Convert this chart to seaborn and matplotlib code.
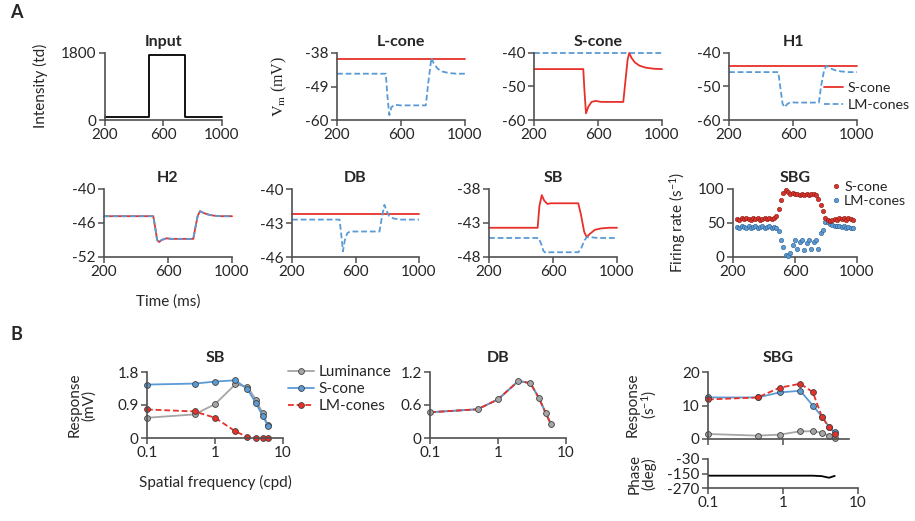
import matplotlib
matplotlib.use("Agg")
import matplotlib.pyplot as plt
from matplotlib.lines import Line2D
from matplotlib.ticker import NullLocator
import seaborn as sns

# ---------------- Panel A data (time in ms) ----------------
input_t = [200, 500, 500, 750, 750, 1000]
input_v = [90, 90, 1740, 1740, 90, 90]

lcone_s_t = [200, 1000]
lcone_s_v = [-39.9, -39.9]
lcone_lm_t = [200, 505, 515, 527, 540, 560, 600, 755, 770, 790, 805, 830, 860, 900, 950, 1000]
lcone_lm_v = [-44.8, -44.8, -52, -58.4, -55.8, -55.0, -55.2, -55.2, -48, -39.6, -41.5, -43.2, -44.1, -44.6, -44.8, -44.8]

scone_lm_t = [200, 1000]
scone_lm_v = [-40, -40]
scone_s_t = [200, 508, 515, 525, 540, 560, 585, 620, 758, 770, 785, 795, 810, 830, 860, 900, 950, 1000]
scone_s_v = [-44.8, -44.8, -51, -58, -56, -54.6, -54.3, -54.6, -54.6, -49, -42, -40, -41.5, -42.8, -43.8, -44.4, -44.7, -44.8]

h1_s_t = [200, 1000]
h1_s_v = [-43.9, -43.9]
h1_lm_t = [200, 508, 520, 535, 548, 565, 585, 620, 762, 775, 795, 810, 830, 860, 900, 950, 1000]
h1_lm_v = [-45.7, -45.7, -50, -55.2, -56.2, -55.2, -54.7, -54.8, -54.8, -50, -45, -43.8, -44.5, -45.1, -45.5, -45.7, -45.7]

h2_t = [200, 508, 520, 532, 545, 560, 590, 620, 758, 770, 785, 800, 820, 850, 885, 930, 1000]
h2_v = [-44.8, -44.8, -46.8, -49.0, -49.35, -49.0, -48.7, -48.8, -48.8, -47, -44.8, -43.9, -44.2, -44.5, -44.7, -44.8, -44.8]

db_s_t = [200, 1000]
db_s_v = [-42.2, -42.2]
db_lm_t = [200, 500, 510, 521, 533, 548, 565, 600, 751, 765, 782, 795, 813, 840, 880, 1000]
db_lm_v = [-42.7, -42.7, -44.0, -45.5, -44.5, -43.9, -43.75, -43.75, -43.75, -42.6, -41.4, -41.9, -42.4, -42.6, -42.7, -42.7]

sb_s_t = [200, 504, 515, 530, 545, 565, 585, 620, 758, 775, 795, 811, 830, 862, 900, 950, 1000]
sb_s_v = [-43.7, -43.7, -40.5, -38.9, -39.7, -40.2, -40.1, -40.1, -40.1, -41.8, -44.3, -45.1, -44.6, -44.0, -43.8, -43.7, -43.7]
sb_lm_t = [200, 510, 525, 540, 555, 580, 758, 775, 795, 811, 840, 880, 1000]
sb_lm_v = [-45.2, -45.2, -46.0, -47.1, -47.4, -47.3, -47.3, -46.8, -45.6, -45.1, -45.1, -45.2, -45.2]

sbg_t = [225, 240, 255, 270, 285, 300, 315, 330, 345, 360, 375, 390, 405, 420, 435, 450, 465,
         480, 495, 510, 525, 540, 555, 570, 585, 600, 615, 630, 645, 660, 675, 690, 705, 720,
         735, 750, 765, 780, 795, 810, 825, 840, 855, 870, 885, 900, 915, 930, 945, 960, 975]
sbg_s = [56, 55, 57, 56, 58, 56, 55, 57, 56, 57, 55, 56, 58, 56, 57, 56, 57,
         60, 70, 84, 94, 98, 96, 93, 94, 92, 93, 91, 92, 91, 92, 91, 93, 93,
         91, 86, 77, 67, 58, 55, 53, 55, 56, 55, 57, 56, 57, 55, 57, 56, 55]
sbg_lm = [44, 43, 45, 44, 42, 45, 43, 44, 46, 43, 44, 45, 43, 44, 45, 43, 44,
          43, 38, 25, 15, 3, 1, 6, 18, 25, 12, 22, 25, 10, 20, 25, 12, 22,
          25, 12, 35, 40, 52, 51, 49, 47, 46, 45, 46, 44, 45, 43, 44, 43, 43]

# ---------------- Panel B data (spatial frequency, cpd) ----------------
sf_b = [0.1, 0.5, 1, 2, 3, 4, 5, 6]
sbB_lum = [0.552, 0.643, 0.923, 1.466, 1.40, 1.04, 0.68, 0.353]
sbB_s = [1.457, 1.484, 1.538, 1.575, 1.33, 0.95, 0.61, 0.335]
sbB_lm = [0.778, 0.724, 0.552, 0.18, 0.027, 0.01, 0.01, 0.0]

dbB = [0.468, 0.522, 0.702, 1.038, 0.996, 0.726, 0.462, 0.252]

sf_g = [0.1, 0.46, 0.9, 1.7, 2.5, 3.3, 4.1, 4.9]
sbgB_s = [12.4, 12.4, 13.9, 14.4, 10.0, 6.7, 3.7, 2.0]
sbgB_lm = [11.8, 12.4, 15.3, 16.5, 14.0, 6.7, 3.5, 1.4]
sbgB_lum = [1.5, 1.0, 1.3, 2.3, 2.3, 1.9, 0.9, 0.3]
sbgB_phase = [-168, -168, -168, -168, -168, -172, -185, -170]

# ---------------- style ----------------
sns.set_style("ticks")
plt.rcParams['font.family'] = ['Lato', 'DejaVu Sans']
plt.rcParams['axes.unicode_minus'] = False
plt.rcParams['mathtext.fontset'] = 'custom'
plt.rcParams['mathtext.rm'] = 'Lato'
plt.rcParams['mathtext.it'] = 'Lato:italic'
plt.rcParams['mathtext.bf'] = 'Lato:bold'

RED = '#e8302a'
BLUE = '#5b9bd5'
GRAY = '#a5a5a5'
AX = '#505050'
FS = 11
LFS = 10.3
TFS = 11.5
LW = 1.3
DASH = (3.2, 1.6)

W, H = 915, 521
fig = plt.figure(figsize=(W / 100, H / 100), dpi=100)


def add_ax(l, r, t, b):
    return fig.add_axes([l / W, 1 - b / H, (r - l) / W, (b - t) / H])


def style(ax, xlim, xticks, ylim, yticks, xlabels=None, ylabels=None, log=False, title=None, tpad=5):
    if log:
        ax.set_xscale('log')
    ax.set_xlim(xlim)
    ax.set_ylim(ylim)
    ax.set_xticks(xticks)
    ax.set_yticks(yticks)
    ax.xaxis.set_minor_locator(NullLocator())
    ax.yaxis.set_minor_locator(NullLocator())
    ax.set_xticklabels(xlabels if xlabels is not None else [str(x) for x in xticks])
    ax.set_yticklabels(ylabels if ylabels is not None else [str(y) for y in yticks])
    for s in ['top', 'right']:
        ax.spines[s].set_visible(False)
    for s in ['left', 'bottom']:
        ax.spines[s].set_color(AX)
        ax.spines[s].set_linewidth(1.2)
    ax.tick_params(direction='out', length=4, width=1.1, color=AX, labelsize=FS, pad=2)
    ax.set_xlabel('')
    ax.set_ylabel('')
    ax.set_facecolor('none')
    if title:
        ax.set_title(title, fontweight='bold', fontsize=TFS, pad=tpad)


def line(ax, x, y, color, dashed=False, **kw):
    sns.lineplot(x=x, y=y, ax=ax, color=color, linewidth=LW, estimator=None, sort=False,
                 dashes=False, **kw)
    ln = ax.lines[-1]
    ln.set_clip_on(False)
    if dashed:
        ln.set_dashes(DASH)
    return ln


tx = [200, 600, 1000]

# Row 1
ax = add_ax(105, 222, 53, 120)
line(ax, input_t, input_v, 'black')
style(ax, (200, 1000), tx, (0, 1800), [0, 1800], title='Input')

ax = add_ax(337, 465, 53, 120)
line(ax, lcone_s_t, lcone_s_v, RED)
line(ax, lcone_lm_t, lcone_lm_v, BLUE, dashed=True)
style(ax, (200, 1000), tx, (-60, -38), [-60, -49, -38], title='L-cone')

ax = add_ax(534, 662, 53, 120)
line(ax, scone_lm_t, scone_lm_v, BLUE, dashed=True)
line(ax, scone_s_t, scone_s_v, RED)
style(ax, (200, 1000), tx, (-60, -40), [-60, -50, -40], title='S-cone')

ax = add_ax(729, 857, 53, 120)
line(ax, h1_s_t, h1_s_v, RED)
line(ax, h1_lm_t, h1_lm_v, BLUE, dashed=True)
style(ax, (200, 1000), tx, (-60, -40), [-60, -50, -40], title='H1')
h_s = Line2D([], [], color=RED, lw=LW)
h_lm = Line2D([], [], color=BLUE, lw=LW, dashes=DASH)
fig.legend([h_s, h_lm], ['S-cone', 'LM-cones'], loc='upper left',
           bbox_to_anchor=(824 / W, 1 - 82 / H), frameon=False, fontsize=LFS,
           handlelength=1.35, handletextpad=0.3, labelspacing=0.35, borderaxespad=0, borderpad=0)

# Row 2
ax = add_ax(104, 232, 189, 257)
line(ax, h2_t, h2_v, RED)
line(ax, h2_t, h2_v, BLUE, dashed=True)
style(ax, (200, 1000), tx, (-52, -40), [-52, -46, -40], title='H2')

ax = add_ax(292, 419, 189, 257)
line(ax, db_s_t, db_s_v, RED)
line(ax, db_lm_t, db_lm_v, BLUE, dashed=True)
style(ax, (200, 1000), tx, (-46, -40), [-46, -43, -40], title='DB')

ax = add_ax(489, 617, 189, 257)
line(ax, sb_s_t, sb_s_v, RED)
line(ax, sb_lm_t, sb_lm_v, BLUE, dashed=True)
style(ax, (200, 1000), tx, (-48, -38), [-48, -43, -38], title='SB')

ax = add_ax(733, 857, 189, 257)
sns.scatterplot(x=sbg_t, y=sbg_lm, ax=ax, color=BLUE, edgecolor='#2e5e8c', s=10, linewidth=0.4, clip_on=False, zorder=3)
sns.scatterplot(x=sbg_t, y=sbg_s, ax=ax, color='#d9342b', edgecolor='#8a1a16', s=10, linewidth=0.4, clip_on=False, zorder=3)
style(ax, (200, 1000), tx, (0, 100), [0, 50, 100], title='SBG')
d_s = Line2D([], [], ls='none', marker='o', ms=3.2, mfc='#d9342b', mec='#8a1a16', mew=0.4)
d_lm = Line2D([], [], ls='none', marker='o', ms=3.2, mfc=BLUE, mec='#2e5e8c', mew=0.4)
fig.legend([d_s, d_lm], ['S-cone', 'LM-cones'], loc='upper left',
           bbox_to_anchor=(832 / W, 1 - 181 / H), frameon=False, fontsize=LFS,
           handlelength=0.5, handletextpad=0.35, labelspacing=0.15, borderaxespad=0, borderpad=0)

# Row B
MS = 4.2
MEW = 0.6
MEC = '#404040'

ax = add_ax(147, 283, 372, 438)
sns.lineplot(x=sf_b, y=sbB_lum, ax=ax, color=GRAY, lw=LW, marker='o', ms=MS, mfc=GRAY, mec=MEC, mew=MEW, estimator=None, sort=False)
sns.lineplot(x=sf_b, y=sbB_s, ax=ax, color=BLUE, lw=LW, marker='o', ms=MS, mfc=BLUE, mec=MEC, mew=MEW, estimator=None, sort=False)
sns.lineplot(x=sf_b, y=sbB_lm, ax=ax, color=RED, lw=LW, marker='o', ms=MS, mfc=RED, mec=MEC, mew=MEW, estimator=None, sort=False)
ax.lines[-1].set_dashes(DASH)
for ln in ax.lines:
    ln.set_clip_on(False)
style(ax, (0.1, 10), [0.1, 1, 10], (0, 1.8), [0, 0.9, 1.8], xlabels=['0.1', '1', '10'], log=True, title='SB', tpad=7)
hb1 = Line2D([], [], color=GRAY, lw=LW, marker='o', ms=MS, mfc=GRAY, mec=MEC, mew=MEW)
hb2 = Line2D([], [], color=BLUE, lw=LW, marker='o', ms=MS, mfc=BLUE, mec=MEC, mew=MEW)
hb3 = Line2D([], [], color=RED, lw=LW, marker='o', ms=MS, mfc=RED, mec=MEC, mew=MEW, dashes=DASH)
fig.legend([hb1, hb2, hb3], ['Luminance', 'S-cone', 'LM-cones'], loc='upper left',
           bbox_to_anchor=(288 / W, 1 - 365 / H), frameon=False, fontsize=FS,
           handlelength=1.7, handletextpad=0.3, labelspacing=0.2, borderaxespad=0, borderpad=0)

ax = add_ax(430, 566, 372, 438)
sns.lineplot(x=sf_b, y=dbB, ax=ax, color=GRAY, lw=LW, estimator=None, sort=False)
sns.lineplot(x=sf_b, y=dbB, ax=ax, color=BLUE, lw=LW, estimator=None, sort=False)
sns.lineplot(x=sf_b, y=dbB, ax=ax, color=RED, lw=LW, estimator=None, sort=False)
ax.lines[-1].set_dashes(DASH)
sns.lineplot(x=sf_b, y=dbB, ax=ax, color=GRAY, lw=0, marker='o', ms=MS, mfc=GRAY, mec=MEC, mew=MEW, estimator=None, sort=False)
for ln in ax.lines:
    ln.set_clip_on(False)
style(ax, (0.1, 10), [0.1, 1, 10], (0, 1.2), [0, 0.6, 1.2], xlabels=['0.1', '1', '10'], log=True, title='DB', tpad=7)

ax = add_ax(708, 849, 372, 439)
sns.lineplot(x=sf_g, y=sbgB_lum, ax=ax, color=GRAY, lw=LW, marker='o', ms=MS, mfc=GRAY, mec=MEC, mew=MEW, estimator=None, sort=False)
sns.lineplot(x=sf_g, y=sbgB_s, ax=ax, color=BLUE, lw=LW, marker='o', ms=MS, mfc=BLUE, mec=MEC, mew=MEW, estimator=None, sort=False)
sns.lineplot(x=sf_g, y=sbgB_lm, ax=ax, color=RED, lw=LW, marker='o', ms=MS, mfc=RED, mec=MEC, mew=MEW, estimator=None, sort=False)
ax.lines[-1].set_dashes(DASH)
for ln in ax.lines:
    ln.set_clip_on(False)
style(ax, (0.1, 7.6), [0.1, 1], (0, 20), [0, 10, 20], xlabels=['', ''], log=True, title='SBG', tpad=7)

ax = add_ax(708, 858, 459, 488)
sns.lineplot(x=sf_g, y=sbgB_phase, ax=ax, color='black', lw=LW, estimator=None, sort=False)
style(ax, (0.1, 10), [0.1, 1, 10], (-270, -30), [-270, -150, -30], xlabels=['0.1', '1', '10'], log=True)

# ---------------- labels ----------------
fig.text(40 / W, 1 - 86 / H, 'Intensity (td)', rotation=90, ha='center', va='center', fontsize=FS)
fig.text(279 / W, 1 - 86 / H, r'$\mathrm{V_m}$ (mV)', rotation=90, ha='center', va='center',
         fontsize=FS + 0.5, family='Liberation Serif', math_fontfamily='stix')
fig.text(678 / W, 1 - 222 / H, r'Firing rate (s$^{-1}$)', rotation=90, ha='center', va='center', fontsize=FS)
fig.text(168 / W, 1 - 302 / H, 'Time (ms)', ha='center', va='center', fontsize=FS)
fig.text(215 / W, 1 - 482 / H, 'Spatial frequency (cpd)', ha='center', va='center', fontsize=FS)
fig.text(82 / W, 1 - 405 / H, 'Response\n(mV)', rotation=90, ha='center', va='center', fontsize=FS,
         multialignment='center', linespacing=1.0)
fig.text(642 / W, 1 - 405 / H, 'Response\n' + r'(s$^{-1}$)', rotation=90, ha='center', va='center', fontsize=FS,
         multialignment='center', linespacing=1.0)
fig.text(642 / W, 1 - 474 / H, 'Phase\n(deg)', rotation=90, ha='center', va='center', fontsize=FS,
         multialignment='center', linespacing=1.0)
fig.text(16 / W, 1 - 13 / H, 'A', ha='center', va='center', fontsize=13, fontweight='bold')
fig.text(16 / W, 1 - 334 / H, 'B', ha='center', va='center', fontsize=13, fontweight='bold')

fig.savefig('out.png', dpi=100, facecolor='white')
